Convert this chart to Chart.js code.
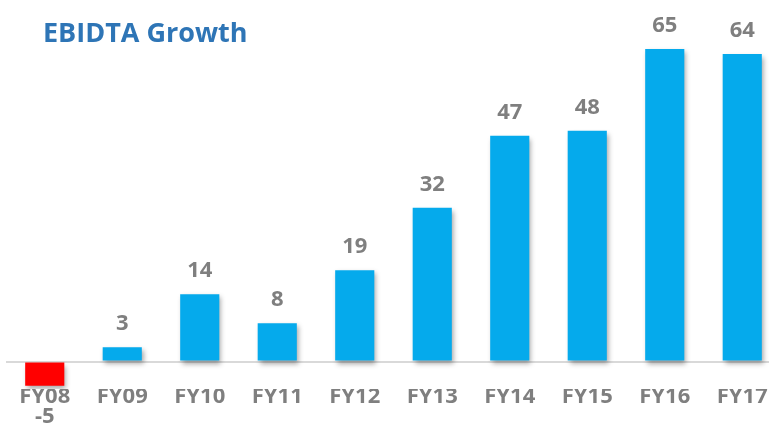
<!DOCTYPE html>
<html lang="en">
<head>
  <meta charset="UTF-8" />
  <title>EBIDTA Growth</title>
  <script src="https://cdn.jsdelivr.net/npm/chart.js"></script>
  <style>
    body {
      margin: 0;
      background: #ffffff;
      overflow: hidden;
    }
    #wrap {
      width: 790px;
      height: 424px;
    }
  </style>
</head>
<body>
  <div id="wrap">
    <canvas id="ebidta" width="790" height="424"></canvas>
  </div>

  <script>
    const years = ['FY08', 'FY09', 'FY10', 'FY11', 'FY12', 'FY13', 'FY14', 'FY15', 'FY16', 'FY17'];
    const ebidta = [-5, 3, 14, 8, 19, 32, 47, 48, 65, 64];

    const BLUE = '#05aaec';
    const RED = '#ff0000';
    const GREY = '#7f7f7f';
    const FONT = '"Open Sans", sans-serif';

    // negative value goes under its category name, like the original
    const tickLabels = years.map((y, i) => ebidta[i] < 0 ? [y, String(ebidta[i])] : y);

    const barShadow = {
      id: 'barShadow',
      beforeDatasetsDraw(chart) {
        const ctx = chart.ctx;
        ctx.save();
        ctx.shadowColor = 'rgba(0,0,0,0.35)';
        ctx.shadowBlur = 5;
        ctx.shadowOffsetX = 2;
        ctx.shadowOffsetY = 3;
      },
      afterDatasetsDraw(chart) {
        chart.ctx.restore();
      }
    };

    const valueLabels = {
      id: 'valueLabels',
      afterDraw(chart) {
        const ctx = chart.ctx;
        ctx.save();
        ctx.font = 'bold 22px ' + FONT;
        ctx.fillStyle = GREY;
        ctx.textAlign = 'center';
        ctx.textBaseline = 'alphabetic';
        chart.getDatasetMeta(0).data.forEach((bar, i) => {
          if (ebidta[i] < 0) return;
          ctx.fillText(String(ebidta[i]), bar.x, bar.y - 17);
        });

        ctx.font = 'bold 27px ' + FONT;
        ctx.fillStyle = '#2e75b6';
        ctx.textAlign = 'left';
        ctx.fillText('EBIDTA Growth', 43, 42);
        ctx.restore();
      }
    };

    new Chart(document.getElementById('ebidta'), {
      type: 'bar',
      data: {
        labels: tickLabels,
        datasets: [{
          data: ebidta,
          backgroundColor: ebidta.map(v => v < 0 ? RED : BLUE),
          borderWidth: 0,
          categoryPercentage: 1,
          barPercentage: 0.505
        }]
      },
      options: {
        responsive: false,
        animation: false,
        layout: { padding: { top: 27, left: 6, right: 9, bottom: 0 } },
        plugins: {
          legend: { display: false },
          tooltip: { enabled: false }
        },
        scales: {
          x: {
            grid: { display: false },
            border: { display: false },
            ticks: {
              color: GREY,
              font: { family: FONT, size: 22, weight: 'bold', lineHeight: 0.9 },
              padding: -10,
              maxRotation: 0,
              autoSkip: false
            },
            afterFit(scale) { scale.height = 35; }
          },
          y: {
            min: -5.7,
            max: 69.6,
            ticks: { display: false, stepSize: 5 },
            border: { display: false },
            grid: {
              drawTicks: false,
              lineWidth: 2,
              color: c => c.tick && c.tick.value === 0 ? '#d9d9d9' : 'rgba(0,0,0,0)'
            },
            afterFit(scale) { scale.width = 0; }
          }
        }
      },
      plugins: [barShadow, valueLabels]
    });
  </script>
</body>
</html>
